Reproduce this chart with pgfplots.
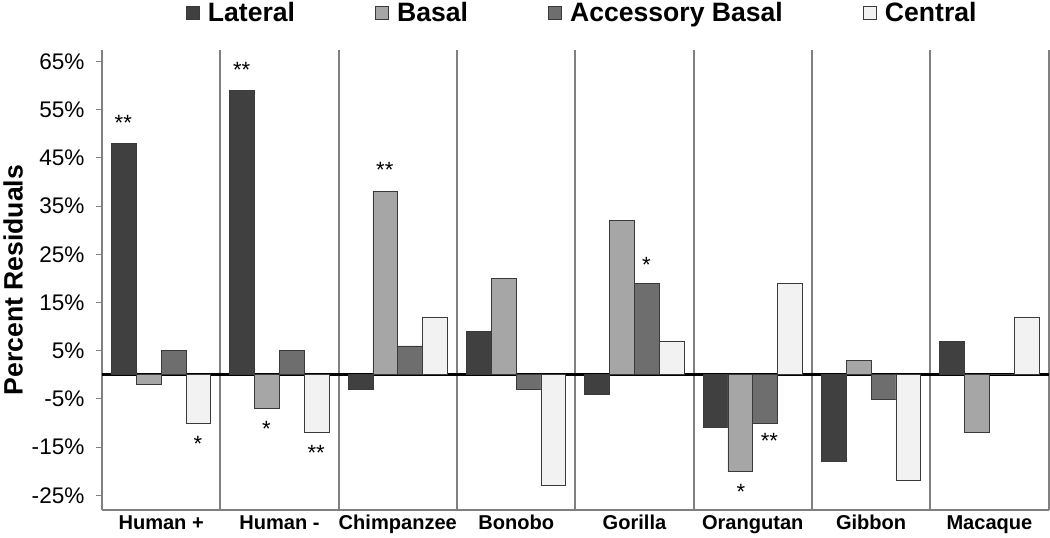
\documentclass[border=0pt]{standalone}
\usepackage{pgfplots}
\pgfplotsset{compat=1.18}
\usepackage{fontspec}
\setmainfont{Liberation Sans}
\definecolor{cLat}{HTML}{404040}
\definecolor{cBas}{HTML}{A6A6A6}
\definecolor{cAcc}{HTML}{6E6E6E}
\definecolor{cCen}{HTML}{F2F2F2}
\definecolor{cEdge}{HTML}{3A3A3A}
\definecolor{cGrid}{HTML}{808080}
\begin{document}
\begin{tikzpicture}
\begin{axis}[
  scale only axis, width=944pt, height=458pt,
  xmin=-0.5, xmax=7.5, ymin=-28, ymax=67.3,
  axis x line*=bottom, axis y line*=left,
  axis line style={-, draw=cGrid, line width=1.8pt},
  ybar, bar width=0.21,
  xtick={0,...,7},
  xticklabels={Human +, Human -, Chimpanzee, Bonobo, Gorilla, Orangutan, Gibbon, Macaque},
  xticklabel style={font=\fontsize{20}{24}\selectfont\bfseries, yshift=4pt},
  major x tick style={draw=none},
  minor xtick={0.5,1.5,...,7.5},
  minor tick length=0pt,
  xminorgrids,
  minor x grid style={draw=cGrid, line width=1.8pt},
  ytick={-25,-15,...,65},
  yticklabels={-25\%,-15\%,-5\%,5\%,15\%,25\%,35\%,45\%,55\%,65\%},
  yticklabel style={font=\fontsize{22.5}{26}\selectfont, xshift=-8pt},
  tick align=outside,
  major tick length=6pt,
  major y tick style={draw=cGrid, line width=1pt},
  ylabel={Percent Residuals},
  ylabel style={font=\fontsize{26.5}{30}\selectfont\bfseries, yshift=-4pt},
  extra y ticks={0}, extra y tick labels={},
  extra y tick style={grid=major, major grid style={draw=black, line width=2.8pt}, major tick length=0pt},
  legend columns=4,
  legend style={at={(0.5,1)}, anchor=center, yshift=38pt, xshift=7pt, draw=none, inner sep=0pt,
    font=\fontsize{26.5}{30}\selectfont\bfseries,
    /tikz/every odd column/.append style={column sep=6pt},
    /tikz/every even column/.append style={column sep=78pt}},
  legend image code/.code={\draw[#1, draw=cEdge, line width=0.8pt] (0pt,-7pt) rectangle (13pt,6pt);},
  clip=false,
]
\addplot[fill=cLat, draw=cEdge, line width=0.8pt, bar shift=-0.315] coordinates {(0,48) (1,59) (2,-3) (3,9) (4,-4) (5,-11) (6,-18) (7,7)};
\addplot[fill=cBas, draw=cEdge, line width=0.8pt, bar shift=-0.105] coordinates {(0,-2) (1,-7) (2,38) (3,20) (4,32) (5,-20) (6,3) (7,-12)};
\addplot[fill=cAcc, draw=cEdge, line width=0.8pt, bar shift=0.105] coordinates {(0,5) (1,5) (2,6) (3,-3) (4,19) (5,-10) (6,-5) (7,0)};
\addplot[fill=cCen, draw=cEdge, line width=0.8pt, bar shift=0.315] coordinates {(0,-10) (1,-12) (2,12) (3,-23) (4,7) (5,19) (6,-22) (7,12)};
\legend{Lateral, Basal, Accessory Basal, Central}
\begin{scope}[every node/.style={font=\fontsize{22}{24}\selectfont}]
\node at (axis cs:-0.32,52.2) {**};
\node at (axis cs:0.31,-14.3) {*};
\node at (axis cs:0.68,63.3) {**};
\node at (axis cs:0.89,-11.3) {*};
\node at (axis cs:1.31,-16.2) {**};
\node at (axis cs:1.89,42.5) {**};
\node at (axis cs:4.1,22.8) {*};
\node at (axis cs:5.14,-13.8) {**};
\node at (axis cs:4.9,-24.2) {*};
\end{scope}
\end{axis}
\end{tikzpicture}
\end{document}
